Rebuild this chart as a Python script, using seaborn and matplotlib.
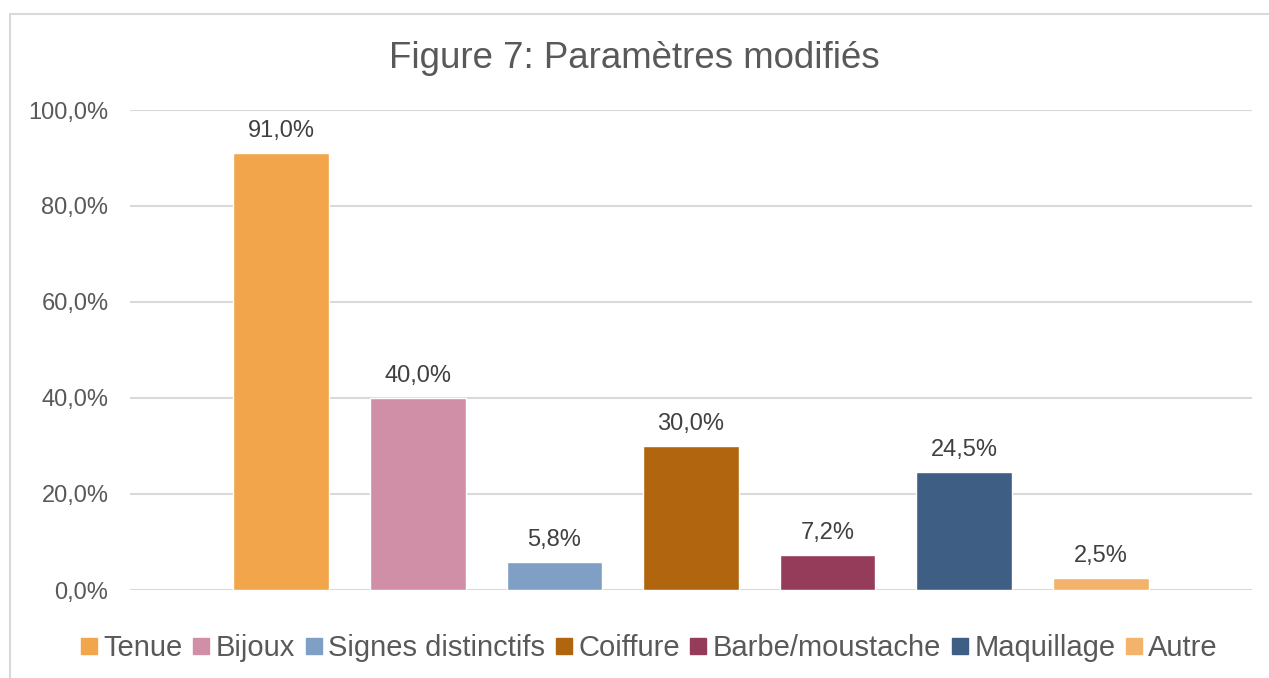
import matplotlib
matplotlib.use("Agg")
import matplotlib.pyplot as plt
import seaborn as sns
import pandas as pd
from matplotlib.lines import Line2D
from matplotlib.patches import Rectangle
from matplotlib.ticker import FuncFormatter

# Data
categories = ["Tenue", "Bijoux", "Signes distinctifs", "Coiffure",
              "Barbe/moustache", "Maquillage", "Autre"]
values = [91.0, 40.0, 5.8, 30.0, 7.2, 24.5, 2.5]
colors = ["#F2A54A", "#D08FA6", "#7F9FC4", "#B0650E",
          "#953C5A", "#3E5E84", "#F4B36A"]
title = "Figure 7: Paramètres modifiés"

sns.set_style("white")
plt.rcParams["font.family"] = ["Liberation Sans", "DejaVu Sans"]
text_color = "#595959"

df = pd.DataFrame({"categorie": categories, "valeur": values})

fig = plt.figure(figsize=(12.69, 6.78), dpi=100)
ax = fig.add_axes([130 / 1269, 1 - 590 / 678, (1252 - 130) / 1269, (590 - 110) / 678])

sns.barplot(data=df, x="categorie", y="valeur", hue="categorie",
            palette=colors, width=0.7, legend=False, ax=ax, saturation=1)

ax.set_ylim(0, 100)
ax.set_xlim(-1.105, 6 + 1.105)
ax.set_yticks([0, 20, 40, 60, 80, 100])
ax.yaxis.set_major_formatter(FuncFormatter(lambda v, p: f"{v:.1f}%".replace(".", ",")))
ax.set_xticks([])
ax.set_xlabel("")
ax.set_ylabel("")
ax.grid(axis="y", color="#D9D9D9", linewidth=1.5)
ax.set_axisbelow(True)
for s in ax.spines.values():
    s.set_visible(False)
ax.tick_params(axis="y", length=0, labelsize=17, colors=text_color, pad=15.5)

for cont in ax.containers:
    ax.bar_label(cont, labels=[f"{v:.1f}%".replace(".", ",") for v in cont.datavalues],
                 padding=8, fontsize=17, color="#404040")

fig.text(0.5, 1 - 58 / 678, title, ha="center", va="center",
         fontsize=26.4, color=text_color)

handles = [Line2D([], [], marker="s", linestyle="none", markersize=11,
                  markerfacecolor=c, markeredgecolor=c) for c in colors]
fig.legend(handles, categories, loc="center", bbox_to_anchor=(650 / 1269, 1 - 648 / 678),
           ncol=7, frameon=False, fontsize=21, labelcolor=text_color,
           handlelength=0.5, handletextpad=0.25, columnspacing=0.38,
           borderaxespad=0)

fig.patches.append(Rectangle((10 / 1269, -0.05), 1.1, 0.05 + 1 - 14 / 678,
                             transform=fig.transFigure, fill=False,
                             edgecolor="#D9D9D9", linewidth=1.5))

fig.savefig("out.png", dpi=100)
